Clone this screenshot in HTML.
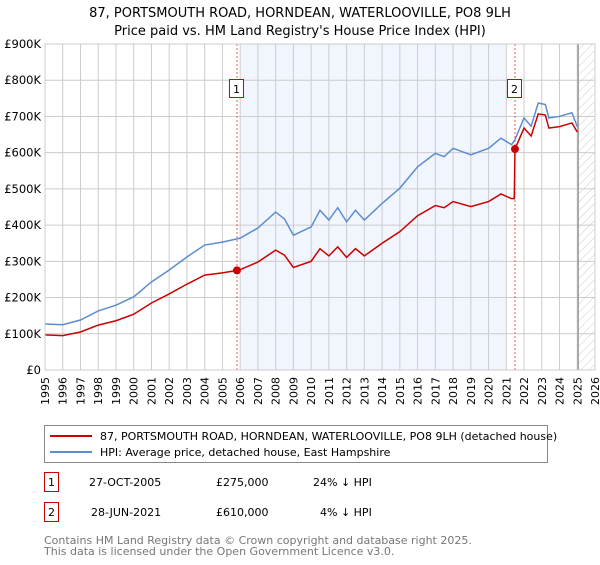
<!DOCTYPE html>
<html><head><meta charset="utf-8"><style>
body{margin:0;background:#fff;width:600px;height:560px;overflow:hidden;font-family:"Liberation Sans","DejaVu Sans",sans-serif}
svg text{font-family:"DejaVu Sans","Liberation Sans",sans-serif}
</style></head><body>
<svg id="chart" width="600" height="560" xmlns="http://www.w3.org/2000/svg">
<defs>
<pattern id="hatch" patternUnits="userSpaceOnUse" width="6" height="6" patternTransform="rotate(45)">
<line x1="0" y1="0" x2="0" y2="6" stroke="#ccc" stroke-width="1"/></pattern>
</defs>
<text x="300" y="17" text-anchor="middle" font-size="13">87, PORTSMOUTH ROAD, HORNDEAN, WATERLOOVILLE, PO8 9LH</text>
<text x="300" y="35" text-anchor="middle" font-size="13">Price paid vs. HM Land Registry's House Price Index (HPI)</text>
<g id="plot"></g>
<g>
<rect x="44.5" y="425.5" width="503" height="37" fill="#fff" stroke="#888"/>
<line x1="50" y1="436" x2="92" y2="436" stroke="#cc0000" stroke-width="2"/>
<text x="100" y="440" font-size="11">87, PORTSMOUTH ROAD, HORNDEAN, WATERLOOVILLE, PO8 9LH (detached house)</text>
<line x1="50" y1="452" x2="92" y2="452" stroke="#5b8dd0" stroke-width="2"/>
<text x="100" y="456" font-size="11">HPI: Average price, detached house, East Hampshire</text>
</g>
<g font-size="11">
<rect x="44.5" y="472.5" width="14" height="19" fill="#fff" stroke="#cc0000"/>
<text x="51.5" y="486" text-anchor="middle">1</text>
<text x="89" y="486">27-OCT-2005</text>
<text x="216" y="486">£275,000</text>
<text x="313" y="486">24% ↓ HPI</text>
</g>
<g font-size="11">
<rect x="44.5" y="502.5" width="14" height="19" fill="#fff" stroke="#cc0000"/>
<text x="51.5" y="516" text-anchor="middle">2</text>
<text x="91" y="516">28-JUN-2021</text>
<text x="216" y="516">£610,000</text>
<text x="320" y="516">4% ↓ HPI</text>
</g>
<text x="44" y="544" font-size="11" fill="#777">Contains HM Land Registry data © Crown copyright and database right 2025.</text>
<text x="44" y="555" font-size="11" fill="#777">This data is licensed under the Open Government Licence v3.0.</text>
</svg>
<script>
const hpiYears=[1995,1996,1997,1998,1999,2000,2001,2002,2003,2004,2005,2005.82,2006,2007,2008,2008.5,2009,2010,2010.5,2011,2011.5,2012,2012.5,2013,2014,2015,2016,2017,2017.5,2018,2019,2020,2020.7,2021.3,2021.49,2022,2022.4,2022.8,2023.2,2023.4,2024,2024.7,2025.0];
const hpiValues=[127,125,138,163,179,202,243,276,312,345,353,362,364,392,436,417,372,395,441,414,448,409,441,414,460,502,561,598,589,612,594,612,640,622,636,696,673,737,733,696,700,710,672];
const priceYears=[1995,1996,1997,1998,1999,2000,2001,2002,2003,2004,2005,2005.82,2006,2007,2008,2008.5,2009,2010,2010.5,2011,2011.5,2012,2012.5,2013,2014,2015,2016,2017,2017.5,2018,2019,2020,2020.7,2021.3,2021.45,2021.49,2022,2022.4,2022.8,2023.2,2023.4,2024,2024.7,2025.0];
const priceValues=[97,95,105,124,136,154,185,210,237,262,268,275,277,298,331,317,283,300,335,315,340,311,335,315,350,382,426,454,448,465,451,465,486,473,473,610,668,646,707,704,668,672,682,657];
const saleDates=[2005.82,2021.49];
const saleValues=[275,610];
const saleLabels=["1","2"];
const yTicks=[0,100,200,300,400,500,600,700,800,900];
const yTickLabels=["£0","£100K","£200K","£300K","£400K","£500K","£600K","£700K","£800K","£900K"];
const xTicks=[1995,1996,1997,1998,1999,2000,2001,2002,2003,2004,2005,2006,2007,2008,2009,2010,2011,2012,2013,2014,2015,2016,2017,2018,2019,2020,2021,2022,2023,2024,2025,2026];

const L=45,R=595,T=44,B=370;
const x=v=>L+(v-1995)/(2026-1995)*(R-L);
const y=v=>B-v/900*(B-T);
const NS="http://www.w3.org/2000/svg";
const g=document.getElementById('plot');
function mk(tag,at){const e=document.createElementNS(NS,tag);for(const k in at)e.setAttribute(k,at[k]);g.appendChild(e);return e;}

const shade=mk('rect',{x:x(2006),y:T,width:x(2020.95)-x(2006),height:B-T,fill:'#eef3fc',opacity:0.8});


const hatch=mk('rect',{x:x(2025.05),y:T,width:R-x(2025.05),height:B-T,fill:'url(#hatch)'});



xTicks.forEach(t=>{
  const ln=mk('line',{x1:x(t),x2:x(t),y1:T,y2:B,stroke:'#cccccc','stroke-width':1});
  
  
  const tx=mk('text',{x:0,y:0,'text-anchor':'end','font-size':11,transform:'translate('+(x(t)+4)+','+(B+7)+') rotate(-90)'});
  
  
  tx.textContent=t;
});
yTicks.forEach((t,i)=>{
  const ln=mk('line',{x1:L,x2:R,y1:y(t),y2:y(t),stroke:'#cccccc','stroke-width':1});
  
  
  const tx=mk('text',{x:L-4,y:y(t)+4,'text-anchor':'end','font-size':11.5});
  
  
  tx.textContent=yTickLabels[i];
});
const nowLine=mk('line',{x1:x(2025.05),x2:x(2025.05),y1:T,y2:B,stroke:'#888','stroke-width':1.2});



saleDates.forEach((d,i)=>{
  const ln=mk('line',{x1:x(d),x2:x(d),y1:T,y2:B,stroke:'#e06060','stroke-width':1,'stroke-dasharray':'2,2'});
  
  
});

const hp=mk('polyline',{points:hpiYears.map((d,i)=>x(d)+','+y(hpiValues[i])).join(' '),fill:'none',stroke:'#5b8dd0','stroke-width':1.5});


const pp=mk('polyline',{points:priceYears.map((d,i)=>x(d)+','+y(priceValues[i])).join(' '),fill:'none',stroke:'#cc0000','stroke-width':1.5});



saleDates.forEach((d,i)=>{
  const c=mk('circle',{cx:x(d),cy:y(saleValues[i]),r:4,fill:'#cc0000'});
  
  
  const bx=mk('rect',{x:x(d)-7.5,y:79.5,width:14,height:18,fill:'#fff',stroke:'#cc0000'});
  
  
  const tx=mk('text',{x:x(d)-0.5,y:93,'text-anchor':'middle','font-size':11});
  
  
  tx.textContent=saleLabels[i];
});
const frame=mk('rect',{x:L,y:T,width:R-L,height:B-T,fill:'none',stroke:'#cccccc'});


</script>
</body></html>
